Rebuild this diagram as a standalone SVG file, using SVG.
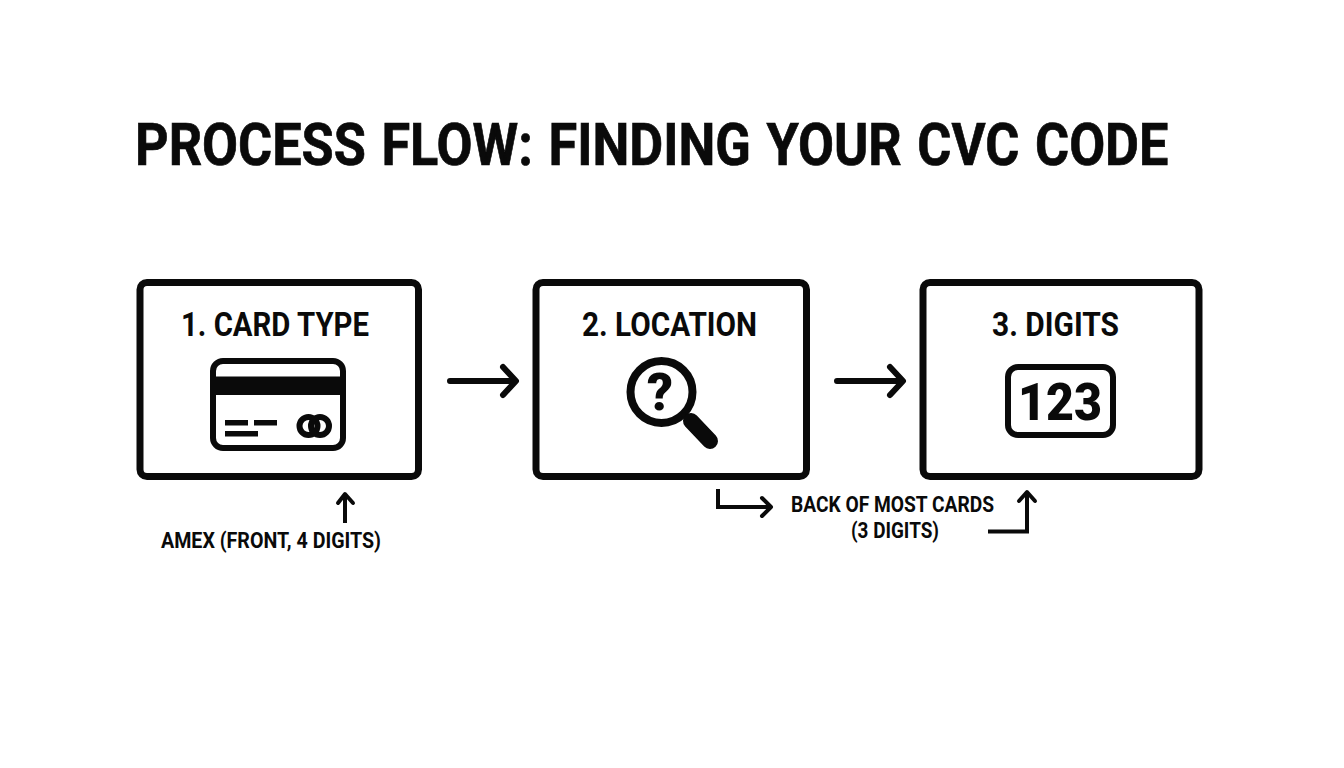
<svg xmlns="http://www.w3.org/2000/svg" width="1344" height="768" viewBox="0 0 1344 768">
<style>
text{font-family:Roboto,"Liberation Sans",sans-serif;font-weight:700;fill:#0a0a0a}
.box{fill:#fff;stroke:#0a0a0a;stroke-width:7}
.ic{fill:none;stroke:#0a0a0a;stroke-width:6}
.c{fill:none;stroke:#0a0a0a;stroke-linecap:round;stroke-linejoin:round}
.t{stroke-linecap:butt;stroke-linejoin:miter}
.s{fill:#0a0a0a}
</style>
<rect width="1344" height="768" fill="#fff"/>
<text id="title" transform="translate(135 165) scale(0.87 1)" font-size="60" word-spacing="3" stroke="#0a0a0a" stroke-width="0.7">PROCESS FLOW: FINDING YOUR CVC CODE</text>
<g id="node1">
<rect class="box" x="140" y="282.5" width="278.5" height="194" rx="7"/>
<text x="181" y="336" font-size="33.500" textLength="188" lengthAdjust="spacingAndGlyphs">1. CARD TYPE</text>
<rect class="ic" x="213" y="361" width="130" height="87" rx="10"/>
<rect class="s" x="213" y="376.500" width="130" height="18.500"/>
<rect class="s" x="225" y="420" width="23" height="5.500"/><rect class="s" x="254" y="420" width="23" height="5.500"/><rect class="s" x="225" y="431" width="33" height="5.500"/>
<circle class="ic" cx="308.500" cy="426" r="9"/><circle class="ic" cx="320" cy="426" r="9"/>
</g>
<g id="node2">
<rect class="box" x="536" y="282.5" width="270.5" height="194" rx="7"/>
<text x="582" y="336" font-size="33.500" textLength="175" lengthAdjust="spacingAndGlyphs">2. LOCATION</text>
<circle cx="661.500" cy="392" r="31" fill="none" stroke="#0a0a0a" stroke-width="8"/>
<text x="660" y="410" font-size="51" text-anchor="middle" style="font-weight:900">?</text>
<path class="c" d="M684 415 L692 423" stroke-width="5"/>
<path class="c" d="M691 421 L710 441" stroke-width="16"/>
</g>
<g id="node3">
<rect class="box" x="923" y="282.5" width="276" height="194" rx="7"/>
<text x="992" y="336" font-size="33.500" textLength="127" lengthAdjust="spacingAndGlyphs">3. DIGITS</text>
<rect class="ic" x="1008" y="367" width="105" height="68" rx="10"/>
<text x="1018" y="420" font-size="52" textLength="84" lengthAdjust="spacingAndGlyphs" style="font-weight:900">123</text>
</g>
<g id="connectors">
<path class="c" stroke-width="6" d="M450 381H515M503 367L516 381L503 395"/>
<path class="c" stroke-width="6" d="M837 381H902M890 367L903 381L890 395"/>
<path class="c t" stroke-width="4" d="M345 523V494"/><path class="c" stroke-width="4" d="M338 503L345 494L353 503"/>
<path class="c t" stroke-width="4" d="M718 489V507H769"/><path class="c" stroke-width="4" d="M762 498L771 507L762 516"/>
<path class="c t" stroke-width="4" d="M988 531.500H1027V493"/><path class="c" stroke-width="4" d="M1019 501L1027 492L1035 501"/>
</g>
<g id="labels">
<text x="161" y="548" font-size="21.500" textLength="220" lengthAdjust="spacingAndGlyphs">AMEX (FRONT, 4 DIGITS)</text>
<text x="791" y="512" font-size="21.500" textLength="203" lengthAdjust="spacingAndGlyphs">BACK OF MOST CARDS</text>
<text x="851" y="538" font-size="21.500" textLength="88" lengthAdjust="spacingAndGlyphs">(3 DIGITS)</text>
</g>
</svg>
